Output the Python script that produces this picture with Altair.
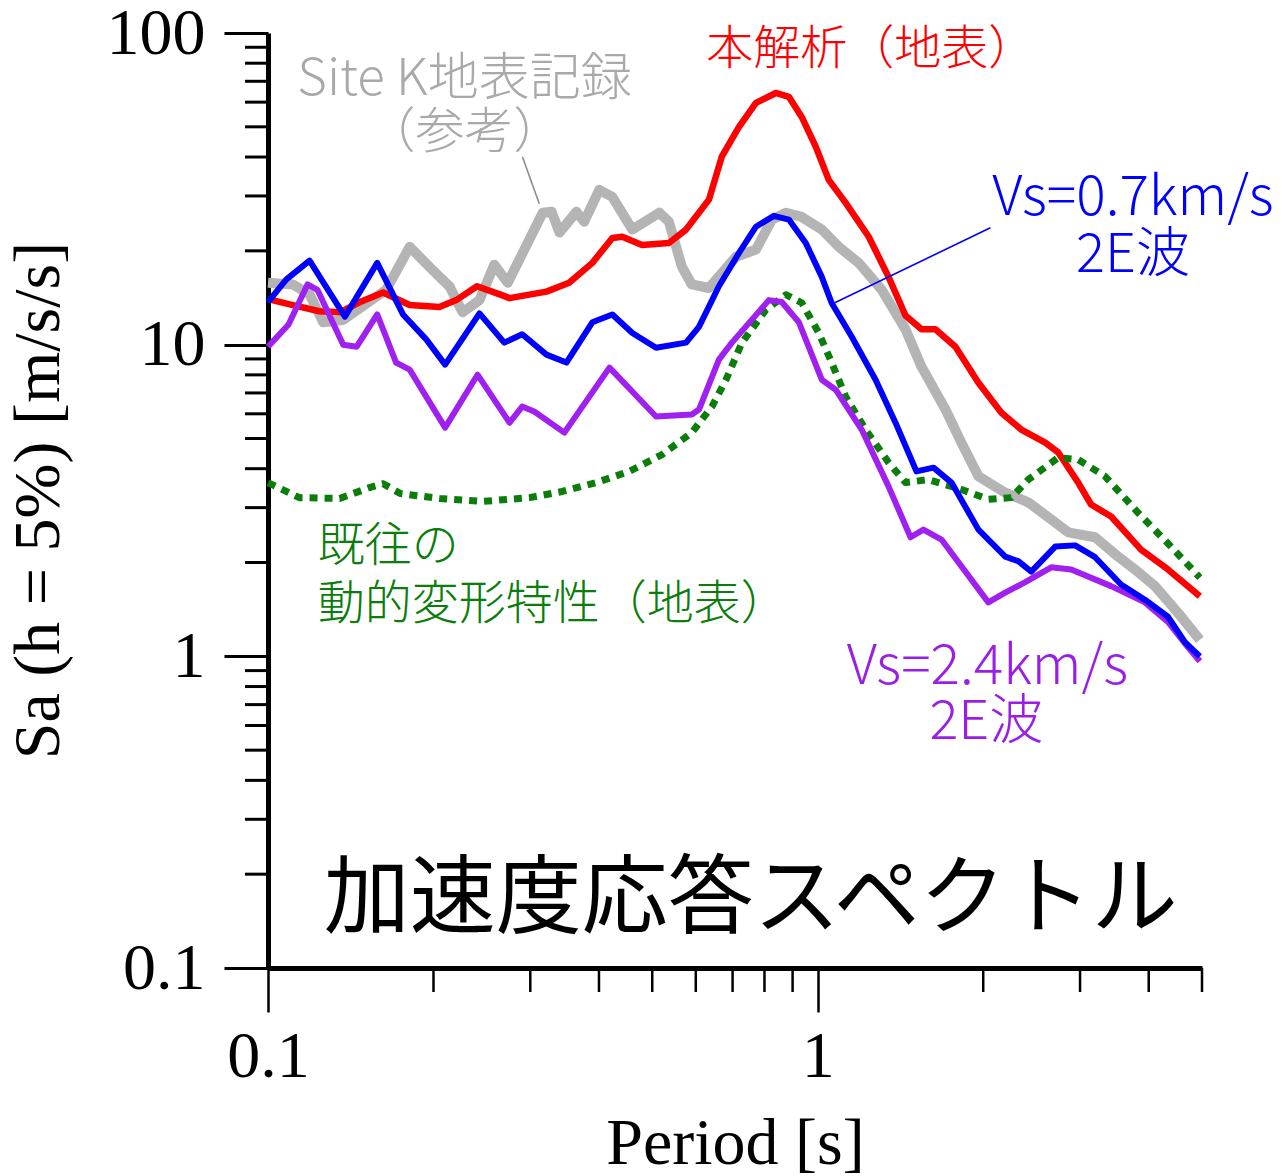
import altair as alt
import pandas as pd

# ---- response spectra: period T [s] and Sa [m/s/s] ----
red_T = [0.100, 0.111, 0.124, 0.135, 0.147, 0.162, 0.181, 0.205, 0.220, 0.240, 0.264, 0.275,
         0.321, 0.353, 0.389, 0.423, 0.441, 0.479, 0.536, 0.576, 0.634, 0.669, 0.719, 0.772,
         0.839, 0.886, 0.935, 0.992, 1.047, 1.124, 1.238, 1.345, 1.444, 1.544, 1.637, 1.780,
         1.960, 2.158, 2.345, 2.593, 2.738, 2.976, 3.142, 3.417, 3.873, 4.335, 4.955]
red_Sa = [14.0, 13.4, 12.8, 12.7, 13.7, 14.7, 13.4, 13.2, 13.9, 15.4, 14.5, 14.1,
          14.8, 15.8, 18.3, 22.0, 22.2, 20.9, 21.2, 23.4, 29.2, 40.1, 50.0, 59.7,
          64.2, 62.4, 53.8, 43.1, 33.8, 28.5, 22.2, 16.5, 12.4, 11.2, 11.2, 9.85,
          7.55, 6.05, 5.34, 4.85, 4.51, 3.61, 3.07, 2.81, 2.20, 1.90, 1.56]

blue_T = [0.100, 0.108, 0.119, 0.138, 0.158, 0.176, 0.194, 0.210, 0.2425, 0.269, 0.290, 0.321,
          0.349, 0.389, 0.423, 0.460, 0.508, 0.576, 0.608, 0.661, 0.719, 0.772, 0.832, 0.886,
          0.951, 1.017, 1.060, 1.153, 1.274, 1.385, 1.512, 1.624, 1.751, 1.960, 2.193, 2.316,
          2.446, 2.704, 2.939, 3.195, 3.562, 3.937, 4.335, 4.655, 4.955]
blue_Sa = [13.7, 16.2, 18.6, 12.3, 18.3, 12.5, 10.4, 8.63, 12.6, 10.15, 10.8, 9.29,
           8.76, 11.8, 12.5, 10.9, 9.78, 10.15, 11.4, 15.4, 19.7, 23.9, 25.9, 25.2,
           21.2, 16.5, 13.6, 10.6, 7.72, 5.62, 3.92, 4.03, 3.61, 2.55, 2.09, 2.02,
           1.87, 2.25, 2.27, 2.08, 1.70, 1.52, 1.34, 1.11, 1.00]

purple_T = [0.100, 0.109, 0.118, 0.123, 0.137, 0.145, 0.158, 0.171, 0.181, 0.210, 0.2405, 0.275,
            0.290, 0.305, 0.346, 0.418, 0.508, 0.590, 0.608, 0.661, 0.698, 0.815, 0.860, 0.924,
            1.017, 1.078, 1.202, 1.345, 1.475, 1.557, 1.679, 2.043, 2.193, 2.385, 2.659, 2.891,
            3.417, 3.937, 4.335, 4.713, 4.955]
purple_Sa = [9.85, 11.6, 15.6, 15.0, 10.0, 9.85, 12.5, 8.76, 8.32, 5.42, 8.01, 5.62,
             6.33, 6.10, 5.22, 8.44, 5.88, 5.97, 6.19, 8.95, 10.15, 13.9, 13.7, 11.8,
             7.72, 7.17, 5.34, 3.51, 2.41, 2.55, 2.37, 1.49, 1.60, 1.73, 1.93, 1.90,
             1.68, 1.49, 1.29, 1.07, 0.964]

gray_T = [0.100, 0.111, 0.119, 0.126, 0.137, 0.164, 0.181, 0.199, 0.214, 0.226, 0.2425, 0.258,
          0.273, 0.316, 0.328, 0.339, 0.364, 0.376, 0.4005, 0.423, 0.460, 0.515, 0.536, 0.566,
          0.590, 0.634, 0.710, 0.772, 0.825, 0.875, 0.935, 1.017, 1.092, 1.187, 1.307, 1.444,
          1.544, 1.708, 1.825, 1.960, 2.193, 2.415, 2.659, 2.855, 3.195, 3.518, 3.776, 4.106,
          4.521, 4.955]
gray_Sa = [15.8, 15.6, 14.5, 11.8, 12.0, 15.0, 20.6, 17.4, 15.35, 12.7, 13.9, 18.05,
           15.8, 26.5, 26.7, 22.9, 26.7, 24.8, 31.4, 29.8, 23.4, 26.5, 24.8, 17.8,
           15.6, 15.2, 19.15, 20.2, 25.15, 26.5, 25.7, 23.4, 20.6, 18.3, 15.0, 11.2,
           8.50, 6.19, 4.85, 3.78, 3.35, 3.12, 2.75, 2.50, 2.41, 2.09, 1.90, 1.68,
           1.38, 1.13]

green_T = [0.100, 0.114, 0.135, 0.153, 0.162, 0.174, 0.205, 0.2455, 0.299, 0.343, 0.3955, 0.454,
           0.521, 0.590, 0.642, 0.681, 0.728, 0.805, 0.875, 0.935, 1.004, 1.060, 1.124, 1.222,
           1.345, 1.444, 1.590, 1.825, 2.043, 2.250, 2.415, 2.738, 2.976, 3.332, 3.824, 4.390,
           4.955]
green_Sa = [3.61, 3.23, 3.21, 3.48, 3.58, 3.33, 3.21, 3.14, 3.23, 3.38, 3.61, 3.92,
            4.44, 5.22, 6.33, 7.72, 10.15, 12.95, 14.46, 13.63, 10.93, 8.76, 6.81, 5.34,
            4.19, 3.61, 3.69, 3.43, 3.19, 3.23, 3.69, 4.34, 4.28, 3.78, 2.89, 2.25,
            1.79]

# ---- axis ticks ----
x_major = [0.1, 1]
x_minor = [0.2, 0.3, 0.4, 0.5, 0.6, 0.7, 0.8, 0.9, 2, 3, 4, 5]
y_major = [0.1, 1, 10, 100]
y_minor = [0.2, 0.3, 0.4, 0.5, 0.6, 0.7, 0.8, 0.9,
           2, 3, 4, 5, 6, 7, 8, 9,
           20, 30, 40, 50, 60, 70, 80, 90]

# ---- labels placed at (T, Sa) ----
center_labels = ["Site K地表記録", "（参考）", "本解析（地表）", "Vs=0.7km/s", "2E波",
                 "Vs=2.4km/s", "2E波"]
center_T = [0.2278, 0.2278, 1.248, 3.745, 3.745, 2.035, 2.026]
center_Sa = [70.7, 47.8, 88.2, 29.6, 19.3, 0.922, 0.610]
center_color = ["#a9a9a9", "#a9a9a9", "#ff0000", "#0000ff", "#0000ff",
                "#9a1fe6", "#9a1fe6"]
center_size = [51, 49, 47, 55, 54, 55, 54]

left_labels = ["既往の", "動的変形特性（地表）"]
left_T = [0.1232, 0.1232]
left_Sa = [2.236, 1.457]

title_label = ["加速度応答スペクトル"]
title_T = [0.7555]
title_Sa = [0.1639]

# leader lines: (T1, Sa1) -> (T2, Sa2)
leader_T1 = [0.2903, 2.061]
leader_Sa1 = [40.06, 23.71]
leader_T2 = [0.3115, 1.074]
leader_Sa2 = [28.31, 13.63]
leader_color = ["#8c8c8c", "#0000ff"]

W, H = 934, 935
SERIF = "Liberation Serif"
SANS = "Noto Sans CJK JP"

xs = alt.Scale(type="log", domain=[0.1, 5], nice=False)
ys = alt.Scale(type="log", domain=[0.1, 100], nice=False)

# one axis definition shared by every layer so they merge into a single axis
XAX = alt.Axis(values=x_major, format="~g", tickSize=44, tickWidth=2.5,
               tickColor="black", domainColor="black", domainWidth=5,
               labelFont=SERIF, labelFontSize=66, labelColor="black",
               labelPadding=12, labelFlush=False, grid=False,
               title="Period [s]", titleFont=SERIF, titleFontSize=66,
               titleFontWeight="normal", titleColor="black",
               titleX=467, titleY=195, titleBaseline="alphabetic",
               titleAlign="center")
YAX = alt.Axis(values=y_major, format="~g", tickSize=44, tickWidth=3,
               tickColor="black", domainColor="black", domainWidth=5,
               labelFont=SERIF, labelFontSize=66, labelColor="black",
               labelPadding=19, labelFlush=False, grid=False,
               title="Sa (h = 5%) [m/s/s]", titleFont=SERIF, titleFontSize=66,
               titleFontWeight="normal", titleColor="black",
               titleX=-210, titleY=467, titleBaseline="alphabetic",
               titleAlign="center")


def X(field):
    return alt.X(field, scale=xs, axis=XAX)


def Y(field):
    return alt.Y(field, scale=ys, axis=YAX)


def series(T, Sa):
    return pd.DataFrame({"T": T, "Sa": Sa, "i": range(len(T))})


def line(T, Sa, color, width, dash=None):
    kw = dict(color=color, strokeWidth=width, strokeJoin="round", strokeCap="butt")
    if dash:
        kw["strokeDash"] = dash
    return alt.Chart(series(T, Sa)).mark_line(**kw).encode(
        x=X("T:Q"), y=Y("Sa:Q"), order="i:Q")


gray = line(gray_T, gray_Sa, "#b4b4b4", 10)
red = line(red_T, red_Sa, "#ff0000", 6.5)
purple = line(purple_T, purple_Sa, "#a020f0", 6)
blue = line(blue_T, blue_Sa, "#0000ff", 6)
green = line(green_T, green_Sa, "#0a7d0a", 7, dash=[8, 7])

y_minor_ticks = alt.Chart(pd.DataFrame({"v": y_minor})).mark_rule(
    color="black", strokeWidth=3).encode(
    y=Y("v:Q"), x=alt.value(-23), x2=alt.value(0))

x_minor_ticks = alt.Chart(pd.DataFrame({"v": x_minor})).mark_rule(
    color="black", strokeWidth=2.5).encode(
    x=X("v:Q"), y=alt.value(H), y2=alt.value(H + 24))

leaders = alt.Chart(pd.DataFrame({
    "T1": leader_T1, "Sa1": leader_Sa1, "T2": leader_T2, "Sa2": leader_Sa2,
    "c": leader_color})).mark_rule(strokeWidth=1.6).encode(
    x=X("T1:Q"), y=Y("Sa1:Q"),
    x2="T2:Q", y2="Sa2:Q", color=alt.Color("c:N", scale=None))

center_text = alt.Chart(pd.DataFrame({
    "label": center_labels, "T": center_T, "Sa": center_Sa,
    "c": center_color, "s": center_size})).mark_text(
    font=SANS, align="center", baseline="middle", fontWeight=300).encode(
    x=X("T:Q"), y=Y("Sa:Q"),
    text="label:N", color=alt.Color("c:N", scale=None),
    size=alt.Size("s:Q", scale=None))

left_text = alt.Chart(pd.DataFrame({
    "label": left_labels, "T": left_T, "Sa": left_Sa})).mark_text(
    font=SANS, align="left", baseline="middle", fontSize=47, fontWeight=300,
    color="#0a7d0a").encode(
    x=X("T:Q"), y=Y("Sa:Q"), text="label:N")

big_text = alt.Chart(pd.DataFrame({
    "label": title_label, "T": title_T, "Sa": title_Sa})).mark_text(
    font=SANS, align="center", baseline="middle", fontSize=86, fontWeight=400,
    color="black").encode(
    x=X("T:Q"), y=Y("Sa:Q"), text="label:N")

chart = alt.layer(
    gray, red, green, purple, blue,
    y_minor_ticks, x_minor_ticks, leaders, center_text, left_text, big_text,
).properties(
    width=W, height=H,
    autosize=alt.AutoSizeParams(type="none"),
    padding={"left": 268, "top": 33, "right": 85, "bottom": 208},
    background="white",
).configure_view(strokeWidth=0)

chart.save("out.html", embed_options={"renderer": "svg", "actions": False})
